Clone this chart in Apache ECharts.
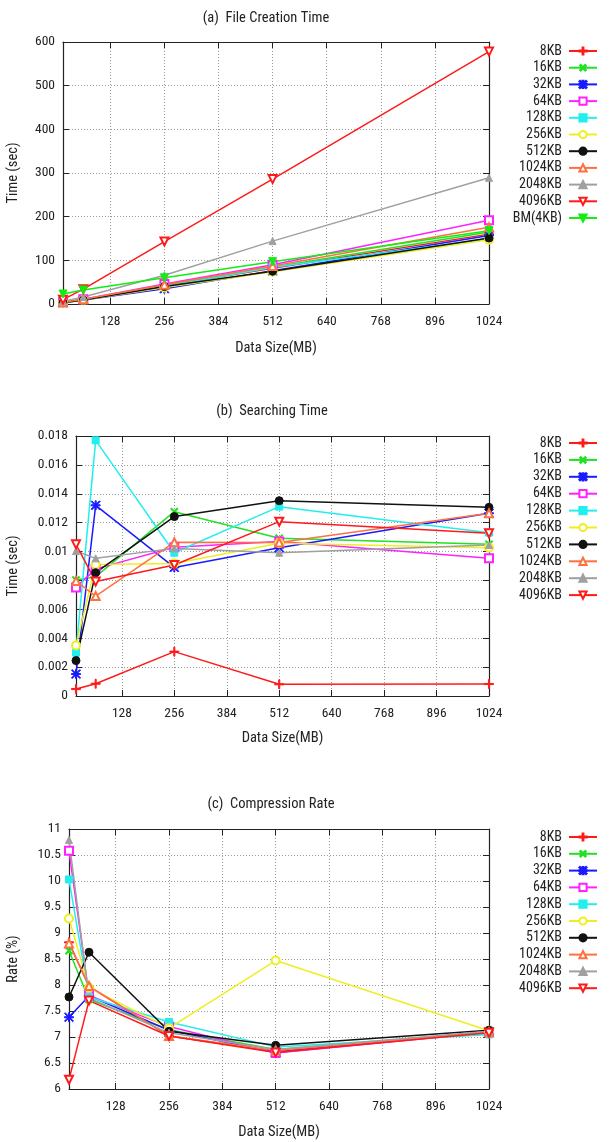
<!DOCTYPE html>
<html><head><meta charset="utf-8">
<script src="https://cdn.jsdelivr.net/npm/echarts@6/dist/echarts.min.js"></script>
<style>html,body{margin:0;padding:0;background:#fff}#c{width:612px;height:1142px}</style>
</head><body><div id="c"></div><script>
// ---- data ----
const dataSizes = [16, 64, 256, 512, 1024];
const xTickLabels = [128, 256, 384, 512, 640, 768, 896, 1024];
const seriesNames = ['8KB','16KB','32KB','64KB','128KB','256KB','512KB','1024KB','2048KB','4096KB','BM(4KB)'];

// (a) File Creation Time (sec)
const creation_8KB    = [4, 10, 42, 82, 160];
const creation_16KB   = [4, 10, 42, 84, 165];
const creation_32KB   = [3, 9, 35, 76, 157];
const creation_64KB   = [4, 11, 46, 90, 192];
const creation_128KB  = [3, 9, 40, 84, 149];
const creation_256KB  = [3, 9, 38, 74, 147];
const creation_512KB  = [3, 9, 40, 75, 151];
const creation_1024KB = [4, 11, 44, 87, 176];
const creation_2048KB = [6, 16, 66, 144, 289];
const creation_4096KB = [10, 34, 143, 286, 578];
const creation_BM     = [23, 32, 60, 97, 168];

// (b) Searching Time (sec)
const search_8KB    = [0.00048, 0.00085, 0.00307, 0.00081, 0.00083];
const search_16KB   = [0.00803, 0.00826, 0.01276, 0.01092, 0.0105];
const search_32KB   = [0.00152, 0.0132, 0.0089, 0.01027, 0.01265];
const search_64KB   = [0.00752, 0.0088, 0.0103, 0.0107, 0.00953];
const search_128KB  = [0.0030, 0.0177, 0.00992, 0.01311, 0.01131];
const search_256KB  = [0.0035, 0.0091, 0.00918, 0.01057, 0.01027];
const search_512KB  = [0.00245, 0.00854, 0.01242, 0.01352, 0.01306];
const search_1024KB = [0.00796, 0.00692, 0.01064, 0.01062, 0.01265];
const search_2048KB = [0.01004, 0.00953, 0.01022, 0.00992, 0.01045];
const search_4096KB = [0.0105, 0.00792, 0.00907, 0.01207, 0.01126];

// (c) Compression Rate (%)
const rate_8KB    = [8.82, 7.97, 7.02, 6.72, 7.09];
const rate_16KB   = [8.66, 7.72, 7.14, 6.76, 7.08];
const rate_32KB   = [7.38, 7.79, 7.13, 6.70, 7.10];
const rate_64KB   = [10.58, 7.80, 7.20, 6.69, 7.09];
const rate_128KB  = [10.03, 7.77, 7.29, 6.81, 7.05];
const rate_256KB  = [9.28, 7.95, 7.17, 8.47, 7.12];
const rate_512KB  = [7.77, 8.63, 7.11, 6.84, 7.13];
const rate_1024KB = [8.80, 7.98, 7.02, 6.74, 7.09];
const rate_2048KB = [10.79, 7.75, 7.08, 6.76, 7.11];
const rate_4096KB = [6.18, 7.70, 7.02, 6.70, 7.08];

const creationSets = [creation_8KB, creation_16KB, creation_32KB, creation_64KB, creation_128KB, creation_256KB, creation_512KB, creation_1024KB, creation_2048KB, creation_4096KB, creation_BM];
const searchSets = [search_8KB, search_16KB, search_32KB, search_64KB, search_128KB, search_256KB, search_512KB, search_1024KB, search_2048KB, search_4096KB];
const rateSets = [rate_8KB, rate_16KB, rate_32KB, rate_64KB, rate_128KB, rate_256KB, rate_512KB, rate_1024KB, rate_2048KB, rate_4096KB];

// ---- styles ----
const FONT = "'Roboto Condensed', 'DejaVu Sans Condensed', sans-serif";
const TXT = '#222';
const PLUS = 'path://M4.4,0H5.6V4.4H10V5.6H5.6V10H4.4V5.6H0V4.4H4.4Z';
const d = 0.8;
const XSHAPE = `M${d},0L5,${5-d}L${10-d},0L10,${d}L${5+d},5L10,${10-d}L${10-d},10L5,${5+d}L${d},10L0,${10-d}L${5-d},5L0,${d}Z`;
const STAR = PLUS + XSHAPE;
const styles = [
  {color:'#ff1a1a', symbol:PLUS, size:9, rot:0},
  {color:'#22e022', symbol:PLUS, size:9, rot:45},
  {color:'#1a1aff', symbol:STAR, size:9, rot:0},
  {color:'#ff22ff', symbol:'emptyRect', size:8, rot:0},
  {color:'#22eeee', symbol:'rect', size:7, rot:0},
  {color:'#eeee22', symbol:'emptyCircle', size:8, rot:0},
  {color:'#111111', symbol:'circle', size:8, rot:0},
  {color:'#ff7040', symbol:'emptyTriangle', size:8, rot:0},
  {color:'#a0a0a0', symbol:'triangle', size:7, rot:0},
  {color:'#ff1a1a', symbol:'emptyTriangle', size:8, rot:180},
  {color:'#11ee11', symbol:'triangle', size:8, rot:180}
];

const grids = [
  {left:63, top:42, width:426, height:262, outerBoundsMode:'none', containLabel:false},
  {left:76, top:436, width:413, height:260, outerBoundsMode:'none', containLabel:false},
  {left:69, top:829, width:420, height:260, outerBoundsMode:'none', containLabel:false}
];
const yConf = [
  {min:0, max:600, interval:100, name:'Time (sec)', gap:42, fmt:v=>String(v)},
  {min:0, max:0.018, interval:0.002, name:'Time (sec)', gap:55, fmt:v=>String(+v.toFixed(3))},
  {min:6, max:11, interval:0.5, name:'Rate (%)', gap:48, fmt:v=>String(+v.toFixed(1))}
];
const xNameGap = [37, 35, 36];

const xAxis = [], yAxis = [], series = [], legend = [];
const frame = {show:true, onZero:false, lineStyle:{color:TXT, width:1.2}};
const tick = {show:true, inside:true, length:6, customValues:xTickLabels, lineStyle:{color:TXT, width:1}};
grids.forEach((g, gi) => {
  xAxis.push({gridIndex:gi, type:'value', min:16, max:1024, position:'bottom',
    axisLine:frame, axisTick:tick,
    axisLabel:{customValues:xTickLabels, color:TXT, fontSize:13.5, fontFamily:FONT, margin:11, formatter:v=>String(v)},
    splitLine:{show:true, customValues:xTickLabels, lineStyle:{type:[1,2], color:'#999', width:1}},
    name:'Data Size(MB)', nameLocation:'middle', nameGap:xNameGap[gi],
    nameTextStyle:{color:TXT, fontSize:14.5, fontFamily:FONT}});
  xAxis.push({gridIndex:gi, type:'value', min:16, max:1024, position:'top',
    axisLine:frame, axisTick:tick, axisLabel:{show:false}, splitLine:{show:false}});
  const yc = yConf[gi];
  yAxis.push({gridIndex:gi, type:'value', min:yc.min, max:yc.max, interval:yc.interval, position:'left',
    axisLine:frame, axisTick:{show:true, inside:true, length:6, lineStyle:{color:TXT}},
    axisLabel:{color:TXT, fontSize:13.5, fontFamily:FONT, margin:8, formatter:yc.fmt},
    splitLine:{show:true, lineStyle:{type:[1,2], color:'#999', width:1}},
    name:yc.name, nameLocation:'middle', nameGap:yc.gap,
    nameTextStyle:{color:TXT, fontSize:14.5, fontFamily:FONT}});
  yAxis.push({gridIndex:gi, type:'value', min:yc.min, max:yc.max, interval:yc.interval, position:'right',
    axisLine:frame, axisTick:{show:true, inside:true, length:6, lineStyle:{color:TXT}},
    axisLabel:{show:false}, splitLine:{show:false}});
});

function addSeries(gi, sets) {
  sets.forEach((arr, i) => {
    const s = styles[i];
    series.push({
      type:'line', name:seriesNames[i], xAxisIndex:gi*2, yAxisIndex:gi*2,
      data:dataSizes.map((x, k) => [x, arr[k]]),
      symbol:s.symbol, symbolSize:s.size, symbolRotate:s.rot, showAllSymbol:true,
      lineStyle:{color:s.color, width:1.5},
      itemStyle:{color:s.color, borderColor:s.color, borderWidth:1},
      animation:false, silent:true
    });
  });
}
addSeries(0, creationSets);
addSeries(1, searchSets);
addSeries(2, rateSets);

const legendTops = [44, 436, 830];
const legendGaps = [2.7, 2.9, 2.8];
[11, 10, 10].forEach((n, gi) => {
  legend.push({data:seriesNames.slice(0, n), orient:'vertical', align:'right', right:14, top:legendTops[gi],
    padding:0, itemWidth:28, itemHeight:9, itemGap:legendGaps[gi], selectedMode:false,
    textStyle:{color:TXT, fontSize:14, lineHeight:14, fontFamily:FONT, padding:[0,2,0,0]}});
});

const titles = [
  {text:'(a)  File Creation Time', x:266, y:18},
  {text:'(b)  Searching Time', x:272, y:411},
  {text:'(c)  Compression Rate', x:271, y:804}
];
const graphic = titles.map(t => ({type:'text', x:t.x, y:t.y,
  style:{text:t.text, align:'center', verticalAlign:'middle', font:`14.5px ${FONT}`, fill:TXT}}));

const chart = echarts.init(document.getElementById('c'), null, {renderer:'canvas'});
chart.setOption({backgroundColor:'#fff', animation:false, grid:grids, xAxis, yAxis, series, legend, graphic});
</script></body></html>
